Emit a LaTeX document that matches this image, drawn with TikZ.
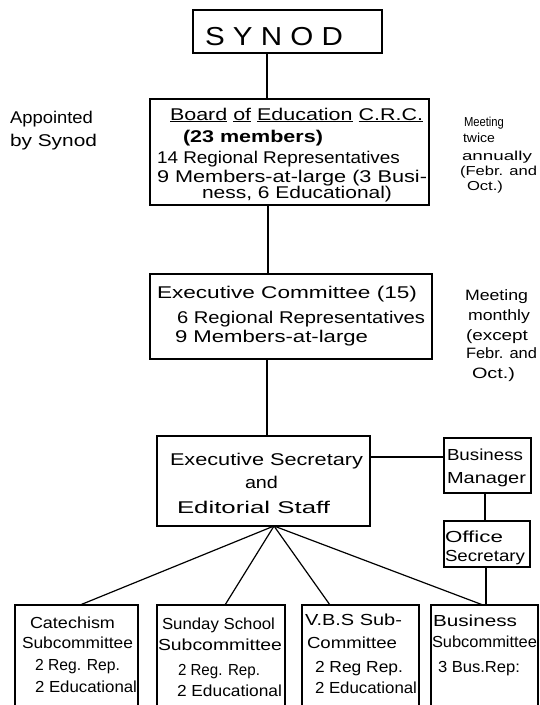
\documentclass[tikz,border=0pt]{standalone}
\usepackage{fontspec}
\setmainfont{Liberation Sans}
\usepackage{graphicx}
\newcommand{\fw}[2]{\resizebox{#1pt}{\height}{#2}}
\begin{document}
\begin{tikzpicture}[x=1pt,y=-1pt,
  box/.style={draw=black,line width=1.3pt,inner sep=0pt,outer sep=0pt,rectangle},
  link/.style={draw=black,line width=1.2pt},
  txt/.style={anchor=base west,inner sep=0pt,outer sep=0pt,text=black,font=\fontsize{17}{20}\selectfont},
  note/.style={txt,font=\fontsize{15}{18}\selectfont},
  notesm/.style={txt,font=\fontsize{13}{15}\selectfont},
  small/.style={txt,font=\fontsize{16}{19}\selectfont}]
\useasboundingbox (0,0) rectangle (539,705);
\clip (0,0) rectangle (539,705);
\fill[white] (0,0) rectangle (539,705);
% boxes
\node[box,minimum width=189pt,minimum height=43pt] (synod) at (287.5,31.5) {};
\node[box,minimum width=279pt,minimum height=106pt] (board) at (289.5,152) {};
\node[box,minimum width=282pt,minimum height=85pt] (exec) at (291,316.5) {};
\node[box,minimum width=213pt,minimum height=90pt] (es) at (263.5,481) {};
\node[box,minimum width=87pt,minimum height=55pt] (bm) at (487.5,465.5) {};
\node[box,minimum width=86pt,minimum height=46pt] (os) at (487,544) {};
\node[box,minimum width=123pt,minimum height=115pt] (cat) at (76.5,662.5) {};
\node[box,minimum width=128pt,minimum height=115pt] (sun) at (221,662.5) {};
\node[box,minimum width=117pt,minimum height=115pt] (vbs) at (360.5,662.5) {};
\node[box,minimum width=107pt,minimum height=115pt] (bus) at (484.5,662.5) {};
% guide coordinates
\coordinate (v1) at (267,0);
\coordinate (v2) at (268,0);
\coordinate (v3) at (267,0);
\coordinate (h1) at (0,457);
\coordinate (v4) at (485,0);
\coordinate (v5) at (486,0);
\coordinate (apx) at (274,0);
\coordinate (c1) at (80,0);
\coordinate (c2) at (225,0);
\coordinate (c3) at (330,0);
\coordinate (c4) at (483,0);
% connectors
\draw[link] (synod.south -| v1) -- (board.north -| v1);
\draw[link] (board.south -| v2) -- (exec.north -| v2);
\draw[link] (exec.south -| v3) -- (es.north -| v3);
\draw[link] (es.east |- h1) -- (bm.west |- h1);
\draw[link] (bm.south -| v4) -- (os.north -| v4);
\draw[link] (os.south -| v5) -- (bus.north -| v5);
\draw[link] (es.south -| apx) -- (cat.north -| c1);
\draw[link] (es.south -| apx) -- (sun.north -| c2);
\draw[link] (es.south -| apx) -- (vbs.north -| c3);
\draw[link] (es.south -| apx) -- (bus.north -| c4);
% texts
\node[txt,font=\fontsize{26}{30}\selectfont] (tsynod) at (205,45) {\fw{138}{S Y N O D}};
\node[txt] (tapp1) at (10,123) {\fw{83}{Appointed}};
\node[txt] (tapp2) at (10,146) {\fw{87}{by Synod}};
\node[txt] (tb1) at (170,120) {\fw{253}{\underline{Board} \underline{of} \underline{Education} \underline{C.R.C.}}};
\node[txt,font=\fontsize{17}{20}\bfseries] (tb2) at (183,142) {\fw{140}{(23 members)}};
\node[txt] (tb3) at (157,163) {\fw{243}{14 Regional Representatives}};
\node[txt] (tb4) at (157,182) {\fw{270}{9 Members-at-large (3 Busi-}};
\node[txt] (tb5) at (202,198) {\fw{190}{ness, 6 Educational)}};
\node[notesm] (tm1) at (464,126) {\fw{40}{Meeting}};
\node[notesm] (tm2) at (463,142) {\fw{32}{twice}};
\node[notesm] (tm3) at (462,160) {\fw{70}{annually}};
\node[notesm] (tm4) at (460,175) {\fw{77}{(Febr. and}};
\node[notesm] (tm5) at (467,190) {\fw{36}{Oct.)}};
\node[txt] (te1) at (157,298) {\fw{260}{Executive Committee (15)}};
\node[txt] (te2) at (177,323) {\fw{248}{6 Regional Representatives}};
\node[txt] (te3) at (175,342) {\fw{193}{9 Members-at-large}};
\node[note] (tn1) at (465,300) {\fw{63}{Meeting}};
\node[note] (tn2) at (468,320) {\fw{62}{monthly}};
\node[note] (tn3) at (466,340) {\fw{62}{(except}};
\node[note] (tn4) at (466,358) {\fw{71}{Febr. and}};
\node[note] (tn5) at (472,378) {\fw{43}{Oct.)}};
\node[txt] (ts1) at (170,465) {\fw{193}{Executive Secretary}};
\node[txt] (ts2) at (245,488) {\fw{33}{and}};
\node[txt] (ts3) at (177,513) {\fw{153}{Editorial Staff}};
\node[small] (tbm1) at (447,460) {\fw{76}{Business}};
\node[small] (tbm2) at (447,483) {\fw{79}{Manager}};
\node[small] (tos1) at (445,542) {\fw{58}{Office}};
\node[small] (tos2) at (445,561) {\fw{80}{Secretary}};
\node[small] (tc1) at (30,628) {\fw{85}{Catechism}};
\node[small] (tc2) at (22,648) {\fw{111}{Subcommittee}};
\node[small] (tc3) at (35,670) {\fw{85}{2 Reg. Rep.}};
\node[small] (tc4) at (35,692) {\fw{102}{2 Educational}};
\node[small] (tu1) at (162,629) {\fw{113}{Sunday School}};
\node[small] (tu2) at (158,650) {\fw{124}{Subcommittee}};
\node[small] (tu3) at (178,675) {\fw{82}{2 Reg. Rep.}};
\node[small] (tu4) at (177,696) {\fw{105}{2 Educational}};
\node[small] (tv1) at (305,625) {\fw{97}{V.B.S Sub-}};
\node[small] (tv2) at (307,648) {\fw{90}{Committee}};
\node[small] (tv3) at (315,672) {\fw{88}{2 Reg Rep.}};
\node[small] (tv4) at (315,693) {\fw{102}{2 Educational}};
\node[small] (tk1) at (433,626) {\fw{84}{Business}};
\node[small] (tk2) at (432,647) {\fw{105}{Subcommittee}};
\node[small] (tk3) at (438,672) {\fw{82}{3 Bus.Rep:}};
\end{tikzpicture}
\end{document}
